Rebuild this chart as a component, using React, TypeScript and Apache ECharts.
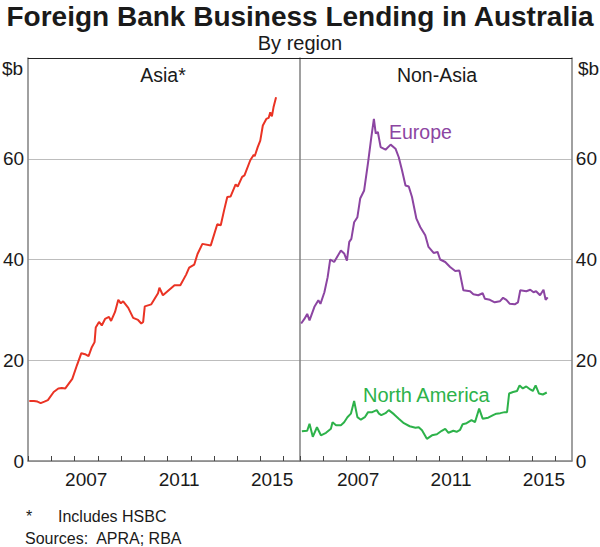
import React, { useEffect, useRef } from 'react';
import * as echarts from 'echarts';

// ---- Data (year as decimal, $b) ----
const asiaDates = [2005.05, 2005.25, 2005.4, 2005.54, 2005.7, 2005.85, 2006.1, 2006.3, 2006.45, 2006.6, 2006.9, 2007.1, 2007.29, 2007.45, 2007.6, 2007.74, 2007.86, 2007.91, 2008.05, 2008.17, 2008.31, 2008.48, 2008.57, 2008.74, 2008.88, 2008.99, 2009.09, 2009.31, 2009.52, 2009.73, 2009.87, 2009.95, 2010.02, 2010.3, 2010.59, 2010.65, 2010.8, 2011.0, 2011.3, 2011.55, 2011.8, 2011.93, 2012.15, 2012.29, 2012.5, 2012.86, 2013.14, 2013.29, 2013.43, 2013.57, 2013.71, 2013.93, 2014.02, 2014.21, 2014.31, 2014.56, 2014.71, 2014.75, 2014.88, 2014.99, 2015.1, 2015.25, 2015.35, 2015.42, 2015.49, 2015.56, 2015.67];
const asiaValues = [11.9, 11.9, 11.8, 11.5, 11.8, 12.1, 13.7, 14.4, 14.5, 14.4, 16.3, 19.0, 21.4, 21.2, 20.8, 22.6, 23.6, 26.5, 27.6, 26.9, 28.2, 28.6, 27.8, 29.6, 32.0, 31.3, 31.7, 30.4, 28.4, 28.0, 27.3, 27.6, 30.7, 31.1, 33.3, 34.4, 32.9, 33.7, 34.9, 34.9, 37.0, 38.4, 39.0, 41.1, 43.1, 42.8, 47.0, 46.8, 49.7, 52.4, 52.5, 54.9, 54.5, 56.4, 56.7, 59.7, 60.8, 60.5, 62.3, 63.6, 66.6, 67.9, 68.1, 69.2, 68.4, 70.2, 72.2];

const europeDates = [2005.05, 2005.19, 2005.31, 2005.41, 2005.62, 2005.79, 2005.88, 2006.05, 2006.19, 2006.3, 2006.47, 2006.76, 2006.9, 2007.02, 2007.12, 2007.21, 2007.33, 2007.47, 2007.59, 2007.76, 2007.93, 2008.07, 2008.18, 2008.26, 2008.35, 2008.47, 2008.68, 2008.9, 2009.11, 2009.25, 2009.39, 2009.54, 2009.68, 2009.82, 2010.01, 2010.18, 2010.39, 2010.53, 2010.75, 2010.92, 2011.03, 2011.25, 2011.46, 2011.68, 2011.86, 2012.03, 2012.32, 2012.46, 2012.67, 2012.86, 2012.96, 2013.17, 2013.38, 2013.6, 2013.74, 2013.88, 2014.03, 2014.24, 2014.38, 2014.48, 2014.74, 2014.91, 2015.05, 2015.16, 2015.33, 2015.48, 2015.57, 2015.66];
const europeValues = [27.3, 28.2, 29.2, 27.9, 30.6, 31.9, 31.2, 33.5, 36.5, 40.0, 39.5, 41.8, 41.2, 39.8, 43.5, 44.1, 47.4, 48.4, 52.1, 53.7, 59.3, 64.3, 67.9, 65.0, 65.3, 62.3, 61.8, 62.8, 62.0, 60.3, 57.7, 54.7, 54.5, 52.4, 48.1, 46.4, 44.8, 42.5, 41.3, 41.5, 40.0, 39.5, 38.5, 37.7, 37.8, 33.9, 33.7, 33.1, 32.9, 33.3, 32.2, 32.0, 31.5, 31.7, 32.4, 32.0, 31.2, 31.1, 31.5, 33.9, 33.7, 34.0, 33.5, 33.7, 32.9, 34.0, 32.0, 32.5];

const naDates = [2005.08, 2005.31, 2005.41, 2005.55, 2005.73, 2005.9, 2006.12, 2006.33, 2006.4, 2006.55, 2006.76, 2006.9, 2007.04, 2007.19, 2007.33, 2007.47, 2007.62, 2007.79, 2007.93, 2008.11, 2008.3, 2008.4, 2008.5, 2008.68, 2008.82, 2009.04, 2009.25, 2009.47, 2009.72, 2009.97, 2010.11, 2010.25, 2010.46, 2010.68, 2010.89, 2011.1, 2011.25, 2011.39, 2011.6, 2011.74, 2011.89, 2012.0, 2012.17, 2012.38, 2012.53, 2012.71, 2012.86, 2013.1, 2013.31, 2013.45, 2013.62, 2013.81, 2013.91, 2014.0, 2014.17, 2014.34, 2014.45, 2014.59, 2014.74, 2014.91, 2015.02, 2015.14, 2015.28, 2015.45, 2015.62];
const naValues = [5.9, 6.0, 7.4, 4.8, 6.7, 5.1, 5.6, 6.4, 7.7, 7.1, 7.1, 7.7, 8.7, 9.4, 11.9, 8.7, 8.2, 8.7, 9.7, 9.7, 10.1, 9.4, 9.1, 9.5, 10.1, 9.3, 8.4, 7.5, 6.9, 6.6, 6.7, 6.1, 4.4, 5.1, 5.3, 6.0, 6.4, 5.6, 6.0, 5.8, 6.2, 7.3, 7.5, 8.1, 7.7, 10.4, 8.4, 8.6, 9.1, 9.4, 9.5, 9.7, 9.7, 13.4, 13.7, 13.9, 15.0, 14.4, 14.8, 14.2, 13.9, 15.0, 13.4, 13.2, 13.6];

const tickYears = [2005, 2006, 2007, 2008, 2009, 2010, 2011, 2012, 2013, 2014, 2015, 2016];
const labelYears = [2007, 2011, 2015];
const xMin = 2005;
const xMax = 2016.7;
const yMin = 0;
const yMax = 80;
const yStep = 20;

const FONT = '"Liberation Sans", Arial, Helvetica, sans-serif';
const TEXT = '#1a1a1a';
const AXIS = '#808080';
const GRIDLINE = '#bdbdbd';

export default function App() {
  const ref = useRef<HTMLDivElement>(null);

  useEffect(() => {
    if (!ref.current) return;
    const chart = echarts.init(ref.current, null, { renderer: 'svg' });
    const zip = (d: number[], v: number[]) => d.map((x, i) => [x, v[i]]);

    const bottomX = (gridIndex: number) => ({
      type: 'value',
      gridIndex,
      min: xMin,
      max: xMax,
      position: 'bottom',
      axisLine: { show: true, onZero: false, lineStyle: { color: AXIS, width: 1.5 } },
      axisTick: {
        show: true,
        inside: true,
        length: 5,
        lineStyle: { color: '#444', width: 1 },
        customValues: tickYears,
      },
      axisLabel: {
        show: true,
        customValues: labelYears.map((y) => y + 0.5),
        formatter: (v: number) => String(Math.floor(v)),
        fontSize: 19,
        color: TEXT,
        fontFamily: FONT,
        margin: 9,
      },
      splitLine: { show: false },
    });

    const topX = (gridIndex: number) => ({
      type: 'value',
      gridIndex,
      min: xMin,
      max: xMax,
      position: 'top',
      axisLine: { show: true, onZero: false, lineStyle: { color: '#222', width: 1 } },
      axisTick: { show: false },
      axisLabel: { show: false },
      splitLine: { show: false },
    });

    const yAx = (gridIndex: number, position: 'left' | 'right', labels: boolean) => ({
      type: 'value',
      gridIndex,
      position,
      min: yMin,
      max: yMax,
      interval: yStep,
      axisLine: { show: true, lineStyle: { color: AXIS, width: 1.5 } },
      axisTick: { show: false },
      axisLabel: {
        show: labels,
        formatter: (v: number) => (v === yMax ? '' : String(v)),
        fontSize: 19,
        color: TEXT,
        fontFamily: FONT,
        margin: 4,
      },
      splitLine: { show: labels, lineStyle: { color: GRIDLINE, width: 1 } },
    });

    chart.setOption({
      animation: false,
      backgroundColor: '#ffffff',
      grid: [
        { left: 26, top: 58, width: 274, height: 403 },
        { left: 300, top: 58, width: 273, height: 403 },
      ],
      xAxis: [bottomX(0), bottomX(1), topX(0), topX(1)],
      yAxis: [yAx(0, 'left', true), yAx(1, 'right', true), yAx(0, 'right', false)],
      series: [
        {
          name: 'Asia',
          type: 'line',
          xAxisIndex: 0,
          yAxisIndex: 0,
          data: zip(asiaDates, asiaValues),
          showSymbol: false,
          lineStyle: { color: '#ea3324', width: 2 },
          z: 5,
        },
        {
          name: 'Europe',
          type: 'line',
          xAxisIndex: 1,
          yAxisIndex: 1,
          data: zip(europeDates, europeValues),
          showSymbol: false,
          lineStyle: { color: '#8c45a2', width: 2 },
          z: 5,
        },
        {
          name: 'North America',
          type: 'line',
          xAxisIndex: 1,
          yAxisIndex: 1,
          data: zip(naDates, naValues),
          showSymbol: false,
          lineStyle: { color: '#2db24a', width: 2 },
          z: 5,
        },
      ],
      graphic: [
        { type: 'text', x: 300, y: 16, style: { text: 'Foreign Bank Business Lending in Australia', fill: TEXT, font: `bold 28px ${FONT}`, textAlign: 'center', textVerticalAlign: 'middle' } },
        { type: 'text', x: 300, y: 43, style: { text: 'By region', fill: TEXT, font: `20px ${FONT}`, textAlign: 'center', textVerticalAlign: 'middle' } },
        { type: 'text', left: 2, top: 59, style: { text: '$b', fill: TEXT, font: `19px ${FONT}` } },
        { type: 'text', left: 578, top: 59, style: { text: '$b', fill: TEXT, font: `19px ${FONT}` } },
        { type: 'text', x: 163, y: 75, style: { text: 'Asia*', fill: TEXT, font: `19.5px ${FONT}`, textAlign: 'center', textVerticalAlign: 'middle' } },
        { type: 'text', x: 437, y: 75, style: { text: 'Non-Asia', fill: TEXT, font: `19.5px ${FONT}`, textAlign: 'center', textVerticalAlign: 'middle' } },
        { type: 'text', x: 389, y: 132, style: { text: 'Europe', fill: '#8c45a2', font: `19.5px ${FONT}`, textAlign: 'left', textVerticalAlign: 'middle' } },
        { type: 'text', x: 363, y: 395, style: { text: 'North America', fill: '#2db24a', font: `20px ${FONT}`, textAlign: 'left', textVerticalAlign: 'middle' } },
        { type: 'text', x: 26, y: 516, style: { text: '*', fill: TEXT, font: `16px ${FONT}`, textAlign: 'left', textVerticalAlign: 'middle' } },
        { type: 'text', x: 58, y: 516, style: { text: 'Includes HSBC', fill: TEXT, font: `16px ${FONT}`, textAlign: 'left', textVerticalAlign: 'middle' } },
        { type: 'text', x: 25, y: 538, style: { text: 'Sources:  APRA; RBA', fill: TEXT, font: `16px ${FONT}`, textAlign: 'left', textVerticalAlign: 'middle' } },
      ],
    });

    return () => chart.dispose();
  }, []);

  return (
    <div
      ref={ref}
      style={{ position: 'absolute', left: 0, top: 0, width: 600, height: 547 }}
    />
  );
}
